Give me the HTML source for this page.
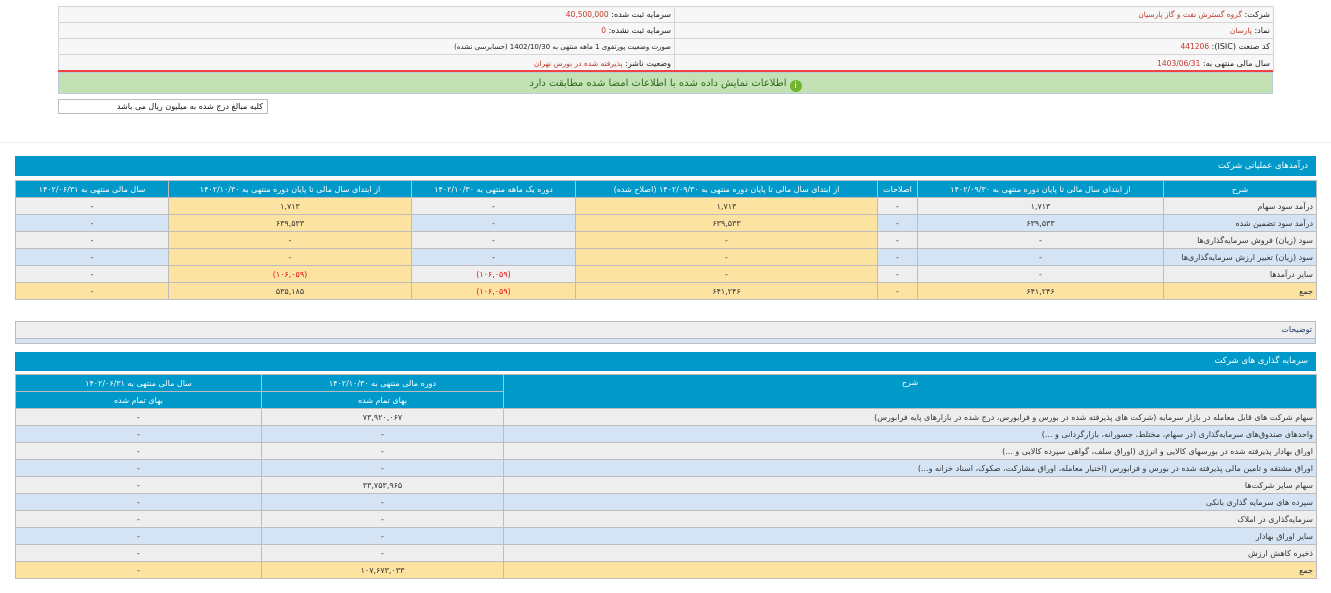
<!DOCTYPE html>
<html><head><meta charset="utf-8"><style>
*{margin:0;padding:0;box-sizing:border-box}
body{width:1331px;height:593px;background:#fff;position:relative;overflow:hidden;font-family:"DejaVu Sans","Liberation Sans",sans-serif;font-size:8px;color:#333}
.abs{position:absolute}
table{border-collapse:collapse;table-layout:fixed;direction:rtl}
td,th{border:1px solid #bdbdbd;white-space:nowrap;overflow:hidden;text-align:center;font-weight:normal;padding:0 3px}
th{background:#0099c9;color:#fff}
.g td{background:#eeeeee}.b td{background:#d4e4f4}.y td{background:#fde3a1}
td.r{text-align:right}
.yc{background:#fde3a1!important}
.red{color:#e01010}
.bar{background:#0099c9;color:#fff;direction:rtl;text-align:right;padding-right:8px;font-size:8.5px}
.info td{background:#f7f7f7;text-align:right;border-color:#d5d5d5;color:#222}
.v{color:#c0392b;font-size:7.5px}
</style></head><body>

<table class="abs info" style="left:58px;top:6px;width:1215px">
<colgroup><col style="width:599px"><col style="width:616px"></colgroup>
<tr style="height:16px"><td>شرکت: <span class="v">گروه گسترش نفت و گاز پارسیان</span></td><td>سرمایه ثبت شده: <span class="v">40,500,000</span></td></tr>
<tr style="height:16px"><td>نماد: <span class="v">پارسان</span></td><td>سرمایه ثبت نشده: <span class="v">0</span></td></tr>
<tr style="height:16px"><td>کد صنعت (ISIC): <span class="v">441206</span></td><td style="font-size:7px">صورت وضعیت پورتفوی 1 ماهه منتهی به 1402/10/30 (حسابرسی نشده)</td></tr>
<tr style="height:17px"><td>سال مالی منتهی به: <span class="v">1403/06/31</span></td><td>وضعیت ناشر: <span class="v">پذیرفته شده در بورس تهران</span></td></tr>
</table>
<div class="abs" style="left:58px;top:70px;width:1215px;height:2px;background:#ee4444"></div>
<div class="abs" style="left:58px;top:72px;width:1215px;height:22px;background:#c3e1b5;border:1px solid #bcd;color:#2a6a1a;font-size:10px;text-align:center;line-height:21px;direction:rtl"><span style="display:inline-block;width:12px;height:12px;border-radius:6px;background:#6fb52c;color:#fff;font-size:9px;line-height:12px;vertical-align:-2px">i</span> اطلاعات نمایش داده شده با اطلاعات امضا شده مطابقت دارد</div>
<div class="abs" style="left:58px;top:99px;width:210px;height:15px;border:1px solid #bbb;direction:rtl;text-align:right;padding-right:4px;line-height:13px;font-size:8px;color:#111">کلیه مبالغ درج شده به میلیون ریال می باشد</div>
<div class="abs" style="left:0;top:142px;width:1331px;height:1px;background:#eee"></div>

<div class="abs bar" style="left:15px;top:156px;width:1301px;height:20px;line-height:20px">درآمدهای عملیاتی شرکت</div>
<table class="abs" style="left:15px;top:180px;width:1301px">
<colgroup><col style="width:153px"><col style="width:246px"><col style="width:40px"><col style="width:302px"><col style="width:164px"><col style="width:243px"><col style="width:153px"></colgroup>
<tr style="height:17px"><th>شرح</th><th>از ابتدای سال مالی تا پایان دوره منتهی به ۱۴۰۲/۰۹/۳۰</th><th>اصلاحات</th><th>از ابتدای سال مالی تا پایان دوره منتهی به ۱۴۰۲/۰۹/۳۰ (اصلاح شده)</th><th>دوره یک ماهه منتهی به ۱۴۰۲/۱۰/۳۰</th><th>از ابتدای سال مالی تا پایان دوره منتهی به ۱۴۰۲/۱۰/۳۰</th><th>سال مالی منتهی به ۱۴۰۲/۰۶/۳۱</th></tr>
<tr class="g" style="height:17px"><td class="r">درآمد سود سهام</td><td>۱,۷۱۳</td><td>-</td><td class="yc">۱,۷۱۳</td><td>-</td><td class="yc">۱,۷۱۳</td><td>-</td></tr>
<tr class="b" style="height:17px"><td class="r">درآمد سود تضمین شده</td><td>۶۳۹,۵۳۳</td><td>-</td><td class="yc">۶۳۹,۵۳۳</td><td>-</td><td class="yc">۶۳۹,۵۳۳</td><td>-</td></tr>
<tr class="g" style="height:17px"><td class="r">سود (زیان) فروش سرمایه‌گذاری‌ها</td><td>-</td><td>-</td><td class="yc">-</td><td>-</td><td class="yc">-</td><td>-</td></tr>
<tr class="b" style="height:17px"><td class="r">سود (زیان) تغییر ارزش سرمایه‌گذاری‌ها</td><td>-</td><td>-</td><td class="yc">-</td><td>-</td><td class="yc">-</td><td>-</td></tr>
<tr class="g" style="height:17px"><td class="r">سایر درآمدها</td><td>-</td><td>-</td><td class="yc">-</td><td class="red">(۱۰۶,۰۵۹)</td><td class="yc red">(۱۰۶,۰۵۹)</td><td>-</td></tr>
<tr class="y" style="height:17px"><td class="r">جمع</td><td>۶۴۱,۲۴۶</td><td>-</td><td>۶۴۱,۲۴۶</td><td class="red">(۱۰۶,۰۵۹)</td><td>۵۳۵,۱۸۵</td><td>-</td></tr>
</table>

<div class="abs" style="left:15px;top:321px;width:1301px;height:23px;border:1px solid #bdbdbd;background:#d4e4f4"><div style="height:17px;background:#eee;border-bottom:1px solid #bdbdbd;direction:rtl;text-align:right;padding-right:3px;line-height:16px;color:#1a3a6a">توضیحات</div></div>

<div class="abs bar" style="left:15px;top:352px;width:1301px;height:19px;line-height:19px">سرمایه گذاری های شرکت</div>
<table class="abs" style="left:15px;top:374px;width:1301px">
<colgroup><col style="width:813px"><col style="width:242px"><col style="width:246px"></colgroup>
<tr style="height:17px"><th rowspan="2" style="vertical-align:top;padding-top:3px">شرح</th><th>دوره مالی منتهی به ۱۴۰۲/۱۰/۳۰</th><th>سال مالی منتهی به ۱۴۰۲/۰۶/۳۱</th></tr>
<tr style="height:17px"><th>بهای تمام شده</th><th>بهای تمام شده</th></tr>
<tr class="g" style="height:17px"><td class="r">سهام شرکت های قابل معامله در بازار سرمایه (شرکت های پذیرفته شده در بورس و فرابورس، درج شده در بازارهای پایه فرابورس)</td><td>۷۳,۹۲۰,۰۶۷</td><td>-</td></tr>
<tr class="b" style="height:17px"><td class="r">واحدهای صندوق‌های سرمایه‌گذاری (در سهام، مختلط، جسورانه، بازارگردانی و ...)</td><td>-</td><td>-</td></tr>
<tr class="g" style="height:17px"><td class="r">اوراق بهادار پذیرفته شده در بورسهای کالایی و انرژی (اوراق سلف، گواهی سپرده کالایی و ...)</td><td>-</td><td>-</td></tr>
<tr class="b" style="height:17px"><td class="r">اوراق مشتقه و تامین مالی پذیرفته شده در بورس و فرابورس (اختیار معامله، اوراق مشارکت، صکوک، اسناد خزانه و...)</td><td>-</td><td>-</td></tr>
<tr class="g" style="height:17px"><td class="r">سهام سایر شرکت‌ها</td><td>۳۳,۷۵۳,۹۶۵</td><td>-</td></tr>
<tr class="b" style="height:17px"><td class="r">سپرده های سرمایه گذاری بانکی</td><td>-</td><td>-</td></tr>
<tr class="g" style="height:17px"><td class="r">سرمایه‌گذاری در املاک</td><td>-</td><td>-</td></tr>
<tr class="b" style="height:17px"><td class="r">سایر اوراق بهادار</td><td>-</td><td>-</td></tr>
<tr class="g" style="height:17px"><td class="r">ذخیره کاهش ارزش</td><td>-</td><td>-</td></tr>
<tr class="y" style="height:17px"><td class="r">جمع</td><td>۱۰۷,۶۷۳,۰۳۳</td><td>-</td></tr>
</table>
</body></html>
